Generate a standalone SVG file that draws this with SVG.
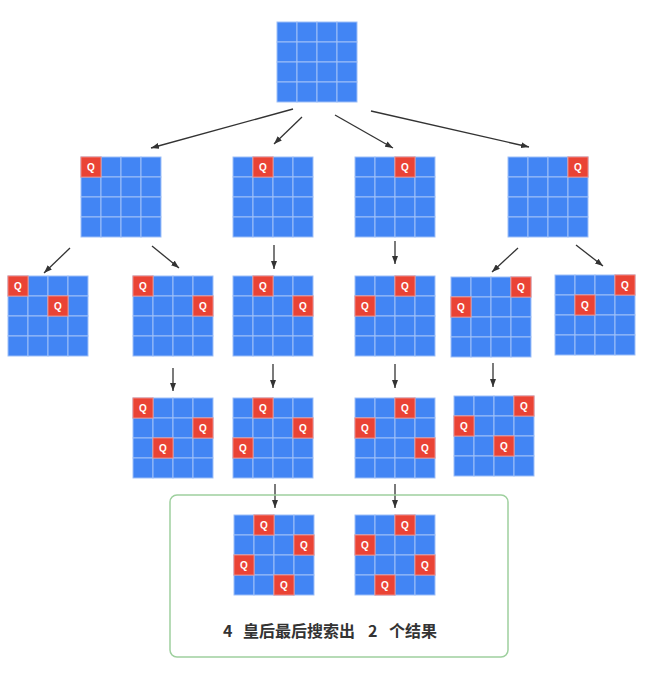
<svg xmlns="http://www.w3.org/2000/svg" xmlns:xlink="http://www.w3.org/1999/xlink" width="663" height="673" viewBox="0 0 663 673">
<style>
.cell{fill:#4285F4;stroke:#9EBFF8;stroke-width:1}
.q rect{fill:#EA4335;stroke:#F08A82;stroke-width:1}
.q text{fill:#ffffff;font-family:"Liberation Sans",Roboto,sans-serif;font-size:10px;font-weight:bold;text-anchor:middle}
.arr{stroke:#333333;stroke-width:1.3;fill:none;marker-end:url(#ah)}
.lbl{fill:#333333;font-family:"Noto Sans CJK SC","Liberation Sans",sans-serif;font-size:16px;font-weight:bold}
</style>
<defs>
<marker id="ah" markerUnits="userSpaceOnUse" markerWidth="8" markerHeight="6" refX="8" refY="3" orient="auto">
<path d="M0,0 L8,3 L0,6 z" fill="#333333"/>
</marker>
<g id="grid">
<rect class="cell" x="0" y="0" width="20" height="20"/><rect class="cell" x="20" y="0" width="20" height="20"/><rect class="cell" x="40" y="0" width="20" height="20"/><rect class="cell" x="60" y="0" width="20" height="20"/>
<rect class="cell" x="0" y="20" width="20" height="20"/><rect class="cell" x="20" y="20" width="20" height="20"/><rect class="cell" x="40" y="20" width="20" height="20"/><rect class="cell" x="60" y="20" width="20" height="20"/>
<rect class="cell" x="0" y="40" width="20" height="20"/><rect class="cell" x="20" y="40" width="20" height="20"/><rect class="cell" x="40" y="40" width="20" height="20"/><rect class="cell" x="60" y="40" width="20" height="20"/>
<rect class="cell" x="0" y="60" width="20" height="20"/><rect class="cell" x="20" y="60" width="20" height="20"/><rect class="cell" x="40" y="60" width="20" height="20"/><rect class="cell" x="60" y="60" width="20" height="20"/>
</g>
</defs>
<rect width="663" height="673" fill="#ffffff"/>

<g id="connectors">
<line class="arr" x1="293" y1="109" x2="151" y2="148"/>
<line class="arr" x1="302" y1="117" x2="274" y2="144"/>
<line class="arr" x1="335" y1="115" x2="393" y2="148"/>
<line class="arr" x1="371" y1="111" x2="529" y2="147"/>
<line class="arr" x1="70" y1="248" x2="44" y2="273"/>
<line class="arr" x1="152" y1="246" x2="179" y2="268"/>
<line class="arr" x1="274" y1="245" x2="274" y2="269"/>
<line class="arr" x1="395" y1="241" x2="395" y2="264"/>
<line class="arr" x1="518" y1="248" x2="492" y2="272"/>
<line class="arr" x1="576" y1="245" x2="603" y2="266"/>
<line class="arr" x1="173" y1="368" x2="173" y2="391"/>
<line class="arr" x1="273" y1="364" x2="273" y2="388"/>
<line class="arr" x1="395" y1="364" x2="395" y2="388"/>
<line class="arr" x1="493" y1="363" x2="493" y2="387"/>
<line class="arr" x1="275" y1="484" x2="275" y2="508"/>
<line class="arr" x1="395" y1="484" x2="395" y2="508"/>
</g>

<g id="root"><use xlink:href="#grid" href="#grid" x="277" y="22"/></g>

<g id="l1a"><use href="#grid" x="81" y="157"/>
<g class="q"><rect x="81" y="157" width="20" height="20"/><text x="91" y="171">Q</text></g></g>
<g id="l1b"><use href="#grid" x="233" y="157"/>
<g class="q"><rect x="253" y="157" width="20" height="20"/><text x="263" y="171">Q</text></g></g>
<g id="l1c"><use href="#grid" x="355" y="157"/>
<g class="q"><rect x="395" y="157" width="20" height="20"/><text x="405" y="171">Q</text></g></g>
<g id="l1d"><use href="#grid" x="508" y="157"/>
<g class="q"><rect x="568" y="157" width="20" height="20"/><text x="578" y="171">Q</text></g></g>

<g id="l2a"><use href="#grid" x="8" y="276"/>
<g class="q"><rect x="8" y="276" width="20" height="20"/><text x="18" y="290">Q</text></g>
<g class="q"><rect x="48" y="296" width="20" height="20"/><text x="58" y="310">Q</text></g></g>
<g id="l2b"><use href="#grid" x="133" y="276"/>
<g class="q"><rect x="133" y="276" width="20" height="20"/><text x="143" y="290">Q</text></g>
<g class="q"><rect x="193" y="296" width="20" height="20"/><text x="203" y="310">Q</text></g></g>
<g id="l2c"><use href="#grid" x="233" y="276"/>
<g class="q"><rect x="253" y="276" width="20" height="20"/><text x="263" y="290">Q</text></g>
<g class="q"><rect x="293" y="296" width="20" height="20"/><text x="303" y="310">Q</text></g></g>
<g id="l2d"><use href="#grid" x="355" y="276"/>
<g class="q"><rect x="395" y="276" width="20" height="20"/><text x="405" y="290">Q</text></g>
<g class="q"><rect x="355" y="296" width="20" height="20"/><text x="365" y="310">Q</text></g></g>
<g id="l2e"><use href="#grid" x="451" y="277"/>
<g class="q"><rect x="511" y="277" width="20" height="20"/><text x="521" y="291">Q</text></g>
<g class="q"><rect x="451" y="297" width="20" height="20"/><text x="461" y="311">Q</text></g></g>
<g id="l2f"><use href="#grid" x="555" y="275"/>
<g class="q"><rect x="615" y="275" width="20" height="20"/><text x="625" y="289">Q</text></g>
<g class="q"><rect x="575" y="295" width="20" height="20"/><text x="585" y="309">Q</text></g></g>

<g id="l3a"><use href="#grid" x="133" y="398"/>
<g class="q"><rect x="133" y="398" width="20" height="20"/><text x="143" y="412">Q</text></g>
<g class="q"><rect x="193" y="418" width="20" height="20"/><text x="203" y="432">Q</text></g>
<g class="q"><rect x="153" y="438" width="20" height="20"/><text x="163" y="452">Q</text></g></g>
<g id="l3b"><use href="#grid" x="233" y="398"/>
<g class="q"><rect x="253" y="398" width="20" height="20"/><text x="263" y="412">Q</text></g>
<g class="q"><rect x="293" y="418" width="20" height="20"/><text x="303" y="432">Q</text></g>
<g class="q"><rect x="233" y="438" width="20" height="20"/><text x="243" y="452">Q</text></g></g>
<g id="l3c"><use href="#grid" x="355" y="398"/>
<g class="q"><rect x="395" y="398" width="20" height="20"/><text x="405" y="412">Q</text></g>
<g class="q"><rect x="355" y="418" width="20" height="20"/><text x="365" y="432">Q</text></g>
<g class="q"><rect x="415" y="438" width="20" height="20"/><text x="425" y="452">Q</text></g></g>
<g id="l3d"><use href="#grid" x="454" y="396"/>
<g class="q"><rect x="514" y="396" width="20" height="20"/><text x="524" y="410">Q</text></g>
<g class="q"><rect x="454" y="416" width="20" height="20"/><text x="464" y="430">Q</text></g>
<g class="q"><rect x="494" y="436" width="20" height="20"/><text x="504" y="450">Q</text></g></g>

<g id="result">
<rect x="170" y="495" width="338" height="162" rx="7" fill="none" stroke="#9ED09E" stroke-width="1.5"/>
<g id="l4a"><use href="#grid" x="234" y="515"/>
<g class="q"><rect x="254" y="515" width="20" height="20"/><text x="264" y="529">Q</text></g>
<g class="q"><rect x="294" y="535" width="20" height="20"/><text x="304" y="549">Q</text></g>
<g class="q"><rect x="234" y="555" width="20" height="20"/><text x="244" y="569">Q</text></g>
<g class="q"><rect x="274" y="575" width="20" height="20"/><text x="284" y="589">Q</text></g></g>
<g id="l4b"><use href="#grid" x="355" y="515"/>
<g class="q"><rect x="395" y="515" width="20" height="20"/><text x="405" y="529">Q</text></g>
<g class="q"><rect x="355" y="535" width="20" height="20"/><text x="365" y="549">Q</text></g>
<g class="q"><rect x="415" y="555" width="20" height="20"/><text x="425" y="569">Q</text></g>
<g class="q"><rect x="375" y="575" width="20" height="20"/><text x="385" y="589">Q</text></g></g>
<text class="lbl" y="637"><tspan x="223">4</tspan><tspan x="243">皇后最后搜索出</tspan><tspan x="368">2</tspan><tspan x="389">个结果</tspan></text>
</g>
</svg>
